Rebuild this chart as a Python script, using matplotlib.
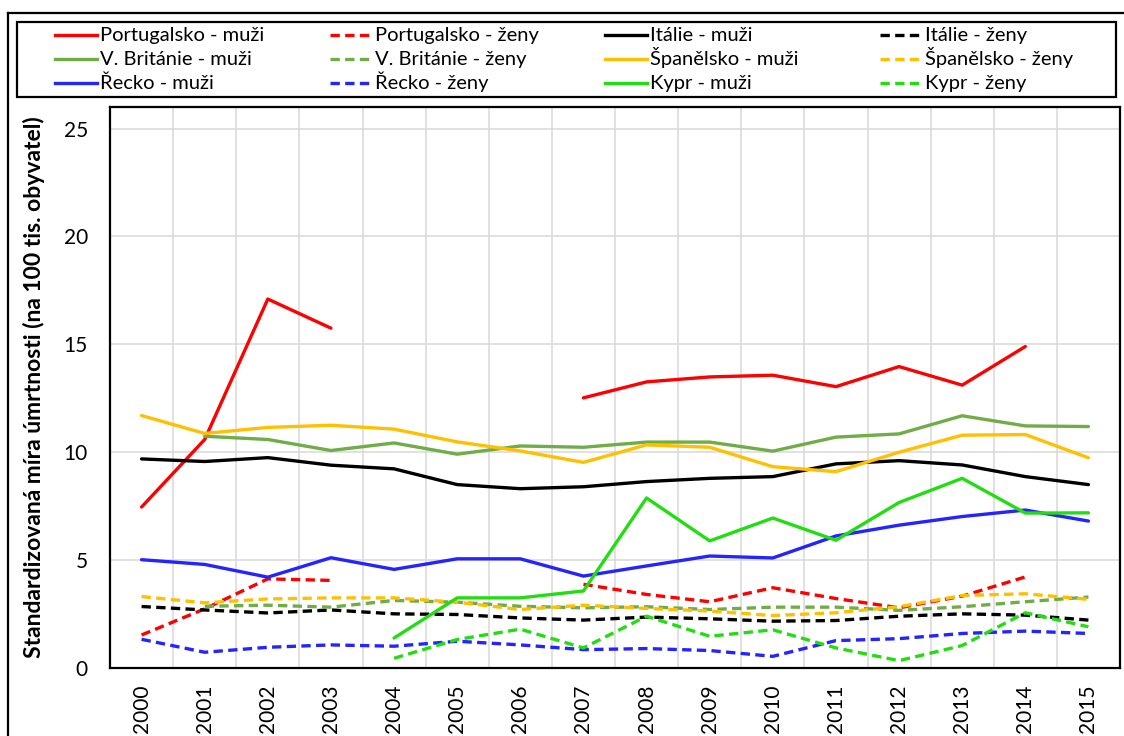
# -*- coding: utf-8 -*-
import numpy as np
import matplotlib
matplotlib.use('Agg')
import matplotlib.pyplot as plt
from matplotlib.lines import Line2D
from matplotlib.patches import Rectangle

plt.rcParams['font.family'] = ['Lato', 'DejaVu Sans']

nan = np.nan
years = list(range(2000, 2016))

# Standardizovana mira umrtnosti (na 100 tis. obyvatel)
pt_m = [7.46, 10.59, 17.10, 15.75, nan, nan, nan, 12.52, 13.26, 13.49, 13.57, 13.04, 13.97, 13.11, 14.90, nan]
pt_f = [1.53, 2.74, 4.13, 4.06, nan, nan, nan, 3.88, 3.41, 3.07, 3.72, 3.22, 2.79, 3.33, 4.22, nan]
it_m = [9.69, 9.57, 9.75, 9.40, 9.23, 8.50, 8.31, 8.40, 8.64, 8.79, 8.87, 9.46, 9.61, 9.41, 8.87, 8.50]
it_f = [2.85, 2.69, 2.55, 2.69, 2.51, 2.48, 2.32, 2.22, 2.36, 2.28, 2.17, 2.20, 2.40, 2.51, 2.45, 2.22]
uk_m = [nan, 10.74, 10.59, 10.08, 10.43, 9.91, 10.29, 10.23, 10.47, 10.47, 10.05, 10.70, 10.85, 11.69, 11.22, 11.19]
uk_f = [nan, 2.86, 2.91, 2.82, 3.13, 3.05, 2.86, 2.79, 2.84, 2.71, 2.82, 2.82, 2.67, 2.84, 3.07, 3.29]
es_m = [11.70, 10.87, 11.15, 11.25, 11.07, 10.48, 10.06, 9.53, 10.34, 10.23, 9.33, 9.10, 10.00, 10.79, 10.82, 9.74]
es_f = [3.31, 3.02, 3.20, 3.25, 3.25, 3.05, 2.71, 2.91, 2.76, 2.64, 2.43, 2.56, 2.84, 3.36, 3.44, 3.18]
gr_m = [5.02, 4.80, 4.21, 5.11, 4.57, 5.06, 5.06, 4.26, 4.73, 5.19, 5.10, 6.12, 6.62, 7.02, 7.32, 6.81]
gr_f = [1.33, 0.73, 0.96, 1.07, 1.01, 1.24, 1.07, 0.85, 0.90, 0.81, 0.54, 1.27, 1.36, 1.60, 1.71, 1.60]
cy_m = [nan, nan, nan, nan, 1.39, 3.25, 3.25, 3.57, 7.88, 5.89, 6.95, 5.92, 7.67, 8.79, 7.18, 7.19]
cy_f = [nan, nan, nan, nan, 0.45, 1.32, 1.80, 0.93, 2.40, 1.47, 1.77, 0.93, 0.34, 1.04, 2.56, 1.91]

series = [
    ('Portugalsko - muži', pt_m, '#FF0000', '-'),
    ('Portugalsko - ženy', pt_f, '#FF0000', '--'),
    ('Itálie - muži', it_m, '#000000', '-'),
    ('Itálie - ženy', it_f, '#000000', '--'),
    ('V. Británie - muži', uk_m, '#70AD47', '-'),
    ('V. Británie - ženy', uk_f, '#70AD47', '--'),
    ('Španělsko - muži', es_m, '#FFC000', '-'),
    ('Španělsko - ženy', es_f, '#FFC000', '--'),
    ('Řecko - muži', gr_m, '#2424FF', '-'),
    ('Řecko - ženy', gr_f, '#2424FF', '--'),
    ('Kypr - muži', cy_m, '#22DD11', '-'),
    ('Kypr - ženy', cy_f, '#22DD11', '--'),
]
DASH = (0, (2.8, 1.6))

W, H = 1124, 736
fig = plt.figure(figsize=(W/100, H/100), dpi=100)
ax = fig.add_axes([110/W, 68/H, 1010/W, 561/H])

x = np.arange(len(years))
for name, vals, col, ls in series:
    if ls == '--':
        ax.plot(x, vals, color=col, lw=2.4, linestyle=DASH, label=name)
    else:
        ax.plot(x, vals, color=col, lw=2.4, solid_capstyle='round', label=name)

ax.set_xlim(-0.5, len(years) - 0.5)
ax.set_ylim(0, 26)
ax.set_yticks([0, 5, 10, 15, 20, 25])
ax.set_xticks(x)
ax.set_xticklabels([str(y) for y in years], rotation=90, fontsize=15)
ax.set_xticks(np.arange(-0.5, len(years) + 0.5, 1), minor=True)
ax.tick_params(axis='y', labelsize=15, length=0, pad=16)
ax.tick_params(axis='x', which='both', length=0, pad=12)
ax.grid(axis='y', which='major', color='#D9D9D9', lw=1.1)
ax.grid(axis='x', which='minor', color='#D9D9D9', lw=1.1)
ax.set_axisbelow(True)
for s in ax.spines.values():
    s.set_color('black')
    s.set_linewidth(1.6)

ax.set_ylabel('Standardizovaná míra úmrtnosti (na 100 tis. obyvatel)', fontsize=16.5,
              fontweight='bold')
ax.yaxis.set_label_coords(-65/1010, 0.5)

# legend drawn by hand: 4 columns, 3 rows, filled row by row
col_x = [55, 330, 605, 880]
row_y = [34.5, 58.5, 82.5]
for i, (name, vals, col, ls) in enumerate(series):
    r, c = i // 4, i % 4
    yy = 1 - row_y[r]/H
    x0 = col_x[c]/W
    fig.add_artist(Line2D([x0, x0 + 42/W], [yy, yy], transform=fig.transFigure, color=col,
                          lw=2.4, linestyle=DASH if ls == '--' else '-'))
    fig.text(x0 + 45/W, yy - 6.5/H, name, fontsize=14.5, va='baseline', ha='left')
fig.add_artist(Rectangle((17/W, 1 - 97/H), 1099/W, 75/H, transform=fig.transFigure,
                         fill=False, edgecolor='black', lw=1.6))

# outer chart border (right and bottom edges fall outside the picture)
fig.add_artist(Line2D([8/W, 8/W], [-0.1, 1 - 13/H], transform=fig.transFigure,
                      color='black', lw=1.6))
fig.add_artist(Line2D([8/W, 1.1], [1 - 13/H, 1 - 13/H], transform=fig.transFigure,
                      color='black', lw=1.6))

fig.savefig('out.png', dpi=100)
